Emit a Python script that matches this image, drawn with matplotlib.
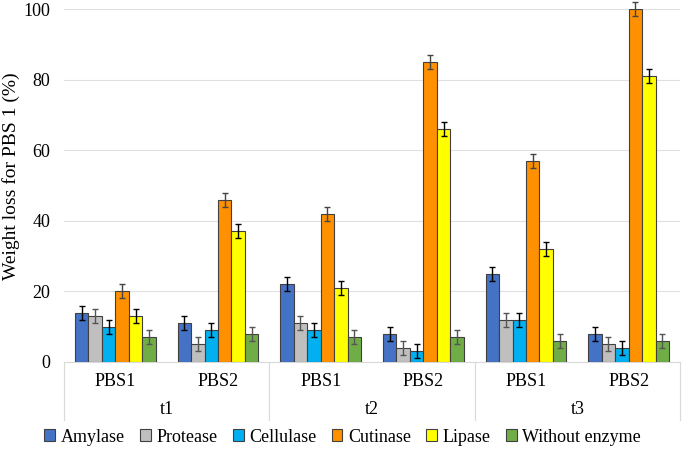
import matplotlib
matplotlib.use("Agg")
import matplotlib.pyplot as plt
import numpy as np
from matplotlib.patches import Patch
from matplotlib.lines import Line2D

plt.rcParams['font.family'] = ['Liberation Serif', 'DejaVu Serif']

series = ["Amylase", "Protease", "Cellulase", "Cutinase", "Lipase", "Without enzyme"]
sub_labels = ["PBS1", "PBS2", "PBS1", "PBS2", "PBS1", "PBS2"]
time_labels = ["t1", "t2", "t3"]

amylase = [14, 11, 22, 8, 25, 8]
protease = [13, 5, 11, 4, 12, 5]
cellulase = [10, 9, 9, 3, 12, 4]
cutinase = [20, 46, 42, 85, 57, 100]
lipase = [13, 37, 21, 66, 32, 81]
without = [7, 8, 7, 7, 6, 6]
errors = [2, 2, 2, 2, 2, 2]

values = [amylase, protease, cellulase, cutinase, lipase, without]
colors = ["#4472C4", "#BFBFBF", "#00B0F0", "#FF9100", "#FFFF00", "#70AD47"]
err_colors = ["black", "#555555", "black", "#444444", "black", "#555555"]

fig = plt.figure(figsize=(6.85, 4.49), dpi=100)
ax = fig.add_axes([64/685, 1-362/449, (680-64)/685, (362-9)/449])

x = np.arange(len(sub_labels))
w = 0.131
for i, (vals, c, ec) in enumerate(zip(values, colors, err_colors)):
    off = (i - 2.5) * w
    bars = ax.bar(x + off, vals, width=w, color=c, edgecolor="#404040", linewidth=0.8,
                  yerr=errors, error_kw=dict(ecolor=ec, elinewidth=1.0, capsize=2, capthick=1.0),
                  zorder=3)
    for art in bars.errorbar.lines[1] + bars.errorbar.lines[2]:
        art.set_clip_on(False)

ax.set_xlim(-0.5, 5.5)
ax.set_ylim(0, 100)
ax.set_yticks(range(0, 101, 20))
ax.tick_params(axis='y', length=0, labelsize=13, pad=10)
ax.tick_params(axis='x', length=0)
ax.set_xticks([])
ax.grid(axis='y', color="#E0E0E0", linewidth=0.8, zorder=0)
for s in ['top', 'right', 'left']:
    ax.spines[s].set_visible(False)
ax.spines['bottom'].set_color("#D9D9D9")
ax.set_ylabel("Weight loss for PBS 1 (%)", fontsize=14)
ax.yaxis.set_label_coords(-44/616, (362-176)/353)

trans = ax.get_xaxis_transform()
axh = 362 - 9
for xi, lab in zip(x, sub_labels):
    ax.text(xi, -19/axh, lab, transform=trans, ha='center', va='center', fontsize=13)
for k, lab in enumerate(time_labels):
    ax.text(2*k + 0.5, -48/axh, lab, transform=trans, ha='center', va='center', fontsize=13)
for xb in [-0.5, 1.5, 3.5, 5.5]:
    ax.add_line(Line2D([xb, xb], [0, -58/axh], transform=trans, color="#D9D9D9",
                       linewidth=0.8, clip_on=False))

handles = [Patch(facecolor=c, edgecolor="#404040", linewidth=0.8) for c in colors]
fig.legend(handles, series, loc='center', bbox_to_anchor=(0.5, 1-437/449), ncol=6,
           frameon=False, fontsize=13, handlelength=0.6, handleheight=0.6,
           handletextpad=0.3, columnspacing=0.85, borderpad=0)

fig.savefig("out.png", dpi=100)
